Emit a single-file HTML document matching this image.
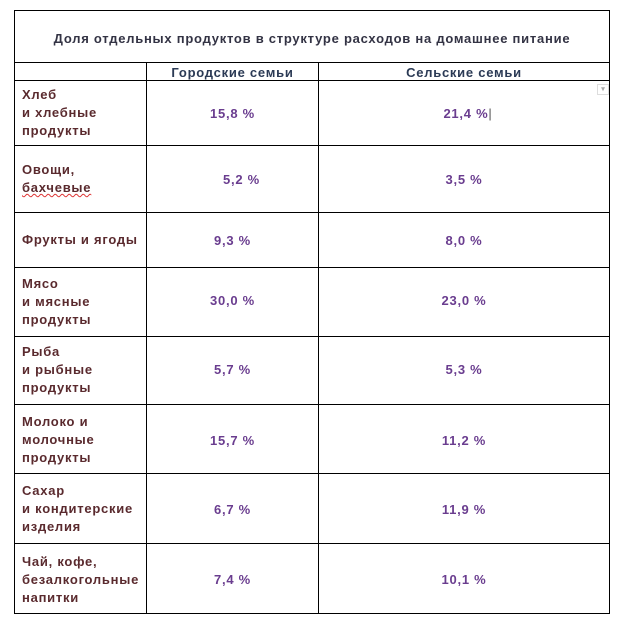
<!DOCTYPE html>
<html><head><meta charset="utf-8"><style>
html,body{margin:0;padding:0;background:#fff;width:622px;height:624px;overflow:hidden}
body{position:relative;font-family:"Liberation Sans",Arial,sans-serif;font-weight:bold;font-size:13px;letter-spacing:0.75px}
.h{position:absolute;background:#000;height:1px}
.v{position:absolute;background:#000;width:1px}
.t{position:absolute;white-space:nowrap}
.lab{position:absolute;left:22px;color:#5a2a2e;line-height:18px;white-space:nowrap}
.val{position:absolute;color:#6a3d8f;text-align:center}
</style></head><body>
<div class="h" style="left:14px;width:596px;top:10px"></div>
<div class="h" style="left:14px;width:596px;top:62px"></div>
<div class="h" style="left:14px;width:596px;top:80px"></div>
<div class="h" style="left:14px;width:596px;top:145px"></div>
<div class="h" style="left:14px;width:596px;top:212px"></div>
<div class="h" style="left:14px;width:596px;top:267px"></div>
<div class="h" style="left:14px;width:596px;top:336px"></div>
<div class="h" style="left:14px;width:596px;top:404px"></div>
<div class="h" style="left:14px;width:596px;top:473px"></div>
<div class="h" style="left:14px;width:596px;top:543px"></div>
<div class="h" style="left:14px;width:596px;top:613px"></div>
<div class="v" style="left:14px;top:10px;height:604px"></div>
<div class="v" style="left:609px;top:10px;height:604px"></div>
<div class="v" style="left:146px;top:62px;height:552px"></div>
<div class="v" style="left:318px;top:62px;height:552px"></div>
<div class="t" style="left:14px;width:596px;text-align:center;top:31px;color:#333344">Доля отдельных продуктов в структуре расходов на домашнее питание</div>
<div class="t" style="left:147px;width:171px;text-align:center;top:65px;color:#2b3a55">Городские семьи</div>
<div class="t" style="left:319px;width:290px;text-align:center;top:65px;color:#2b3a55">Сельские семьи</div>
<div style="position:absolute;left:597px;top:84px;width:10px;height:9px;border:1px solid #ddd;color:#aaa;font-size:7px;line-height:9px;text-align:center;letter-spacing:0">▾</div>

<div class="lab" style="top:86px">Хлеб<br>и хлебные<br>продукты</div>
<div class="lab" style="top:161px">Овощи,<br><span style="text-decoration:underline wavy #d33;text-decoration-thickness:1px">бахчевые</span></div>
<div class="lab" style="top:231px">Фрукты и ягоды</div>
<div class="lab" style="top:275px">Мясо<br>и мясные<br>продукты</div>
<div class="lab" style="top:343px">Рыба<br>и рыбные<br>продукты</div>
<div class="lab" style="top:413px">Молоко и<br>молочные<br>продукты</div>
<div class="lab" style="top:482px">Сахар<br>и кондитерские<br>изделия</div>
<div class="lab" style="top:553px">Чай, кофе,<br>безалкогольные<br>напитки</div>

<div class="val" style="left:147px;width:171px;top:106px">15,8 %</div>
<div class="val" style="left:323px;width:290px;top:106px">21,4 %<span style="color:#555;font-weight:normal">|</span></div>
<div class="val" style="left:156px;width:171px;top:172px">5,2 %</div>
<div class="val" style="left:319px;width:290px;top:172px">3,5 %</div>
<div class="val" style="left:147px;width:171px;top:233px">9,3 %</div>
<div class="val" style="left:319px;width:290px;top:233px">8,0 %</div>
<div class="val" style="left:147px;width:171px;top:293px">30,0 %</div>
<div class="val" style="left:319px;width:290px;top:293px">23,0 %</div>
<div class="val" style="left:147px;width:171px;top:362px">5,7 %</div>
<div class="val" style="left:319px;width:290px;top:362px">5,3 %</div>
<div class="val" style="left:147px;width:171px;top:433px">15,7 %</div>
<div class="val" style="left:319px;width:290px;top:433px">11,2 %</div>
<div class="val" style="left:147px;width:171px;top:502px">6,7 %</div>
<div class="val" style="left:319px;width:290px;top:502px">11,9 %</div>
<div class="val" style="left:147px;width:171px;top:572px">7,4 %</div>
<div class="val" style="left:319px;width:290px;top:572px">10,1 %</div>
</body></html>
